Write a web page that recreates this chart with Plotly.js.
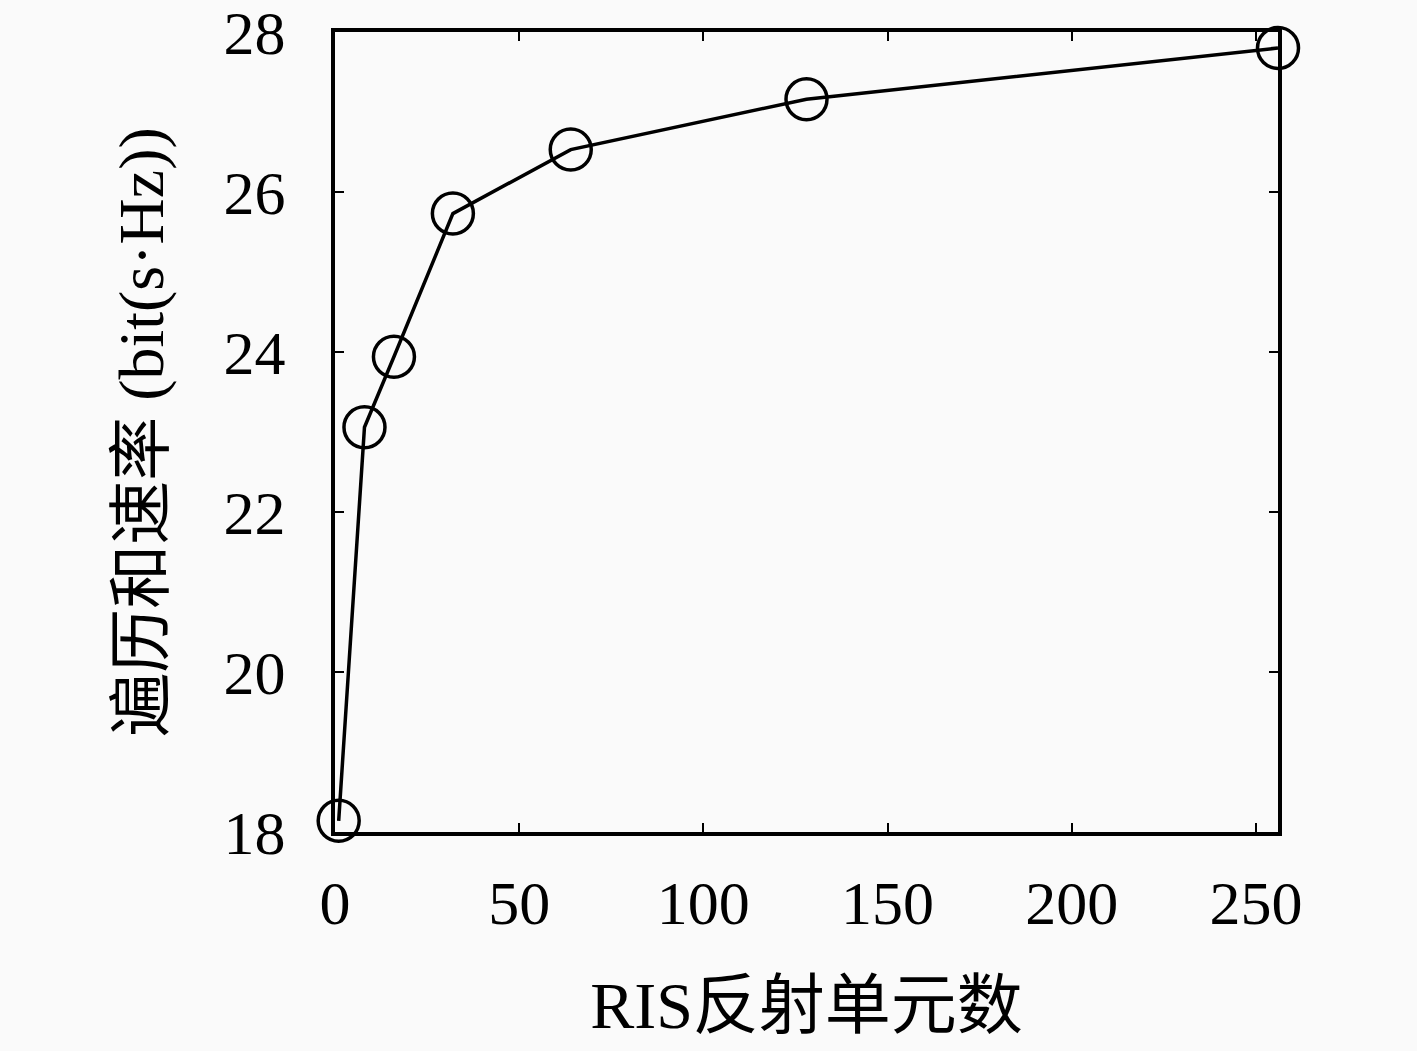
<!DOCTYPE html>
<html>
<head>
<meta charset="utf-8">
<script src="https://cdn.plot.ly/plotly-3.0.1.min.js"></script>
<style>html,body{margin:0;padding:0;background:#fafafa;}#chart{width:1417px;height:1051px;}</style>
</head>
<body>
<div id="chart"></div>
<script>
const elements = [1, 8, 16, 32, 64, 128, 256];
const sumRate = [18.14, 23.06, 23.94, 25.73, 26.53, 27.16, 27.80];
const xTicks = [0, 50, 100, 150, 200, 250];
const yTicks = [18, 20, 22, 24, 26, 28];

const fontFam = '"Liberation Serif", "Times New Roman", "Noto Sans CJK SC", serif';

const trace = {
  x: elements,
  y: sumRate,
  type: 'scatter',
  mode: 'lines+markers',
  line: {color: '#000', width: 3.5},
  marker: {symbol: 'circle-open', size: 41, color: '#000', line: {width: 3.5, color: '#000'}},
  cliponaxis: false,
  showlegend: false
};

const layout = {
  width: 1417,
  height: 1051,
  paper_bgcolor: '#fafafa',
  plot_bgcolor: '#fafafa',
  margin: {l: 335, r: 139, t: 32, b: 219},
  font: {family: fontFam, color: '#000', size: 62},
  xaxis: {
    range: [0, 256],
    tickvals: xTicks,
    ticktext: xTicks.map(String),
    ticks: 'inside', ticklen: 9, tickwidth: 2, tickcolor: '#000',
    showline: true, linewidth: 4, linecolor: '#000', mirror: 'ticks',
    showgrid: false, zeroline: false,
    ticklabelstandoff: 14,
    ticklabeloverflow: 'allow',
    tickfont: {family: fontFam, size: 62, color: '#000'},
    title: {text: 'RIS反射单元数', font: {family: fontFam, size: 66, color: '#000'}, standoff: 46}
  },
  yaxis: {
    range: [18, 28],
    tickvals: yTicks,
    ticktext: yTicks.map(String),
    ticks: 'inside', ticklen: 9, tickwidth: 2, tickcolor: '#000',
    showline: true, linewidth: 4, linecolor: '#000', mirror: 'ticks',
    showgrid: false, zeroline: false,
    ticklabelstandoff: 33,
    ticklabeloverflow: 'allow',
    tickfont: {family: fontFam, size: 62, color: '#000'},
    title: {text: '遍历和速率 (bit(s·Hz))', font: {family: fontFam, size: 64, color: '#000'}, standoff: 40}
  }
};

Plotly.newPlot('chart', [trace], layout, {displayModeBar: false, staticPlot: true});
</script>
</body>
</html>
